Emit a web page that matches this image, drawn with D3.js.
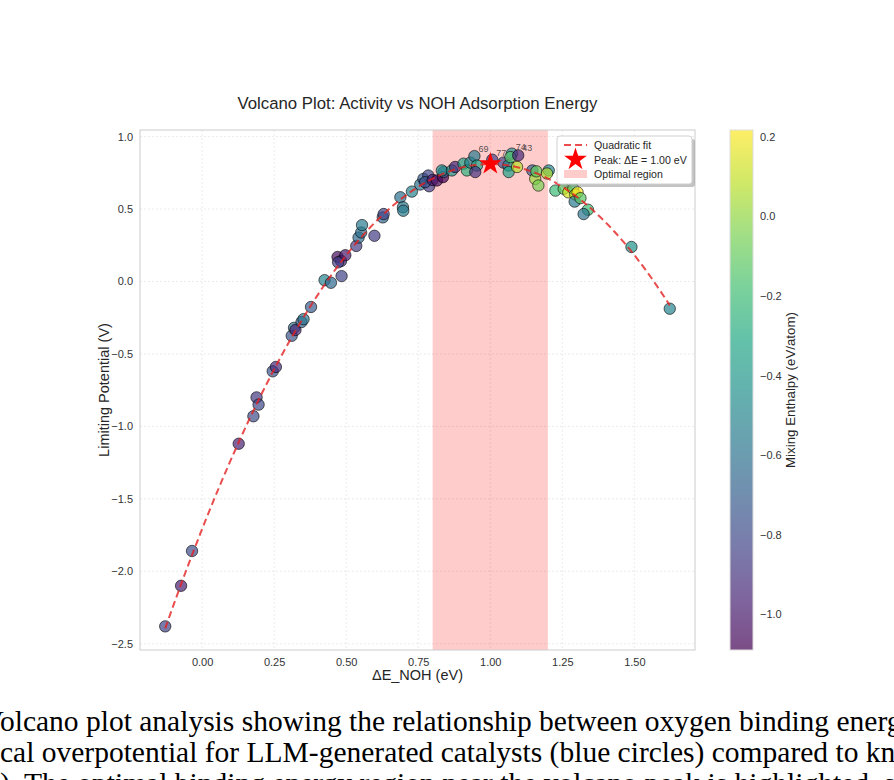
<!DOCTYPE html>
<html>
<head>
<meta charset="utf-8">
<script src="https://cdn.jsdelivr.net/npm/d3@7"></script>
<style>
  body { margin: 0; background: #fff; overflow: hidden; }
  svg { display: block; font-family: "Liberation Sans", Arial, sans-serif; }
</style>
</head>
<body>
<svg id="chart" width="894" height="780"></svg>
<script>
// values
const deltaE = [-0.128, -0.073, -0.035, 0.127, 0.178, 0.189, 0.196, 0.245, 0.256, 0.311, 0.319, 0.324, 0.345, 0.352, 0.378,
  0.425, 0.447, 0.484, 0.470, 0.482, 0.497, 0.472, 0.535, 0.543, 0.552, 0.555, 0.598, 0.627, 0.630, 0.688, 0.697, 0.698,
  0.728, 0.757, 0.768, 0.785, 0.788, 0.774, 0.800, 0.815, 0.836, 0.838, 0.832, 0.867, 0.878, 0.907, 0.919, 0.931, 0.945,
  0.954, 0.948, 1.007, 1.046, 1.063, 1.064, 1.075, 1.070, 1.097, 1.093, 1.146, 1.156, 1.167, 1.160, 1.203, 1.197, 1.226,
  1.255, 1.271, 1.288, 1.295, 1.303, 1.293, 1.313, 1.339, 1.324, 1.490, 1.623]
const limitingPotential = [-2.38, -2.10, -1.86, -1.12, -0.93, -0.80, -0.85, -0.62, -0.59, -0.375, -0.32, -0.335, -0.28, -0.26, -0.176,
  0.009, -0.009, 0.037, 0.169, 0.141, 0.181, 0.132, 0.245, 0.303, 0.338, 0.389, 0.315, 0.442, 0.465, 0.581, 0.512, 0.488,
  0.620, 0.669, 0.708, 0.731, 0.657, 0.685, 0.700, 0.697, 0.720, 0.755, 0.766, 0.766, 0.790, 0.8125, 0.766, 0.82, 0.865,
  0.80, 0.755, 0.84, 0.82, 0.80, 0.755, 0.882, 0.858, 0.87, 0.79, 0.766, 0.708, 0.662, 0.76, 0.766, 0.745, 0.627,
  0.64, 0.615, 0.64, 0.60, 0.615, 0.551, 0.575, 0.495, 0.465, 0.238, -0.188]
const mixingEnthalpy = [-0.82, -0.98, -0.78, -0.97, -0.78, -0.88, -0.80, -0.76, -0.93, -0.74, -0.62, -0.95, -0.70, -0.58, -0.72,
  -0.52, -0.64, -0.82, -1.05, -0.95, -1.00, -0.86, -0.86, -0.64, -0.60, -0.55, -0.86, -0.66, -0.82, -0.60, -0.56, -0.55,
  -0.52, -0.60, -0.72, -0.82, -0.88, -0.76, -1.0, -1.02, -1.09, -0.7, -0.45, -0.42, -0.95, -0.35, -0.25, -0.5, -0.55,
  -0.35, -0.9, -0.85, -0.8, -0.5, -0.35, -0.45, -0.15, -0.95, 0.08, -0.7, 0.02, -0.05, -0.1, -0.5, 0.05, -0.2,
  -0.1, 0.12, -0.15, 0.1, 0.217, -0.55, -0.12, -0.2, -0.58, -0.42, -0.5]

const labelIndex = [48, 51, 55, 57]
const labelText = ['69', '77', '74', '43']

const optimalRegion = [0.8, 1.2]
const xTicks = [0, 0.25, 0.5, 0.75, 1.0, 1.25, 1.5]
const yTicks = [-2.5, -2.0, -1.5, -1.0, -0.5, 0.0, 0.5, 1.0]
const cbarTicks = [-1.0, -0.8, -0.6, -0.4, -0.2, 0.0, 0.2]

const captionLines = [
  ['V', 'olcano plot analysis showing the relationship between oxygen binding energy and'],
  ['electrochemi', 'cal overpotential for LLM-generated catalysts (blue circles) compared to known'],
  ['catalysts', '). The optimal binding energy region near the volcano peak is highlighted, showing how LLM']
]

let svg = d3.select('#chart')
let plot = { left: 140, right: 695, top: 130, bottom: 650 }
let fmtMinus = s => s.replace('-', '\u2212')

let points = deltaE.map((d, i) => ({ x: d, y: limitingPotential[i], h: mixingEnthalpy[i] }))

// 5% margins like matplotlib autoscale
let xExt = d3.extent(deltaE), yExt = d3.extent(limitingPotential)
let xPad = (xExt[1] - xExt[0]) * 0.05, yPad = (yExt[1] - yExt[0]) * 0.05
let xScale = d3.scaleLinear().domain([xExt[0] - xPad, xExt[1] + xPad]).range([plot.left, plot.right])
let yScale = d3.scaleLinear().domain([yExt[0] - yPad, yExt[1] + yPad]).range([plot.bottom, plot.top])

let hExt = d3.extent(mixingEnthalpy)
let color = d3.scaleSequential(d3.interpolateViridis).domain(hExt)

// quadratic least squares fit
function polyfit2(xs, ys) {
  let s = [0, 0, 0, 0, 0], t = [0, 0, 0]
  xs.forEach((x, i) => {
    for (let k = 0; k < 5; k++) s[k] += Math.pow(x, k)
    for (let k = 0; k < 3; k++) t[k] += Math.pow(x, k) * ys[i]
  })
  let m = [[s[0], s[1], s[2], t[0]], [s[1], s[2], s[3], t[1]], [s[2], s[3], s[4], t[2]]]
  for (let c = 0; c < 3; c++) {
    for (let r = c + 1; r < 3; r++) {
      let f = m[r][c] / m[c][c]
      for (let k = c; k < 4; k++) m[r][k] -= f * m[c][k]
    }
  }
  let coef = [0, 0, 0]
  for (let r = 2; r >= 0; r--) {
    let v = m[r][3]
    for (let k = r + 1; k < 3; k++) v -= m[r][k] * coef[k]
    coef[r] = v / m[r][r]
  }
  return coef // c0 + c1 x + c2 x^2
}
let coef = polyfit2(deltaE, limitingPotential)
let fitY = x => coef[0] + coef[1] * x + coef[2] * x * x
let peakX = -coef[1] / (2 * coef[2])
let peakY = fitY(peakX)
let fitLine = d3.range(0, 101).map(i => {
  let x = xExt[0] + (xExt[1] - xExt[0]) * i / 100
  return [x, fitY(x)]
})

// title
svg.append('text')
  .attr('x', (plot.left + plot.right) / 2).attr('y', 109)
  .attr('text-anchor', 'middle').attr('font-size', 16.8).attr('fill', '#262626')
  .text('Volcano Plot: Activity vs NOH Adsorption Energy')

svg.append('defs').append('clipPath').attr('id', 'plotClip')
  .append('rect').attr('x', plot.left).attr('y', plot.top)
  .attr('width', plot.right - plot.left).attr('height', plot.bottom - plot.top)

// grid
let grid = svg.append('g')
grid.selectAll('.gx').data(xTicks).enter().append('line')
  .attr('x1', d => xScale(d)).attr('x2', d => xScale(d))
  .attr('y1', plot.top).attr('y2', plot.bottom)
  .attr('stroke', '#e6e6e6').attr('stroke-dasharray', '2,2').attr('stroke-width', 0.8)
grid.selectAll('.gy').data(yTicks).enter().append('line')
  .attr('y1', d => yScale(d)).attr('y2', d => yScale(d))
  .attr('x1', plot.left).attr('x2', plot.right)
  .attr('stroke', '#e6e6e6').attr('stroke-dasharray', '2,2').attr('stroke-width', 0.8)

let inner = svg.append('g').attr('clip-path', 'url(#plotClip)')

// optimal region
inner.append('rect')
  .attr('x', xScale(optimalRegion[0])).attr('y', plot.top)
  .attr('width', xScale(optimalRegion[1]) - xScale(optimalRegion[0]))
  .attr('height', plot.bottom - plot.top)
  .attr('fill', '#ff0000').attr('fill-opacity', 0.2)

// points
inner.selectAll('circle').data(points).enter().append('circle')
  .attr('cx', d => xScale(d.x)).attr('cy', d => yScale(d.y)).attr('r', 5.7)
  .attr('fill', d => color(d.h)).attr('fill-opacity', 0.7)
  .attr('stroke', '#000').attr('stroke-opacity', 0.6).attr('stroke-width', 1)

// fit line
inner.append('path').datum(fitLine)
  .attr('d', d3.line().x(d => xScale(d[0])).y(d => yScale(d[1])))
  .attr('fill', 'none').attr('stroke', '#e32020').attr('stroke-opacity', 0.8)
  .attr('stroke-width', 2).attr('stroke-dasharray', '7,4')

// peak star
let star = d3.symbol().type(d3.symbolStar).size(160)
inner.append('path').attr('d', star())
  .attr('transform', `translate(${xScale(peakX)},${yScale(peakY)})`)
  .attr('fill', '#ff0000')

// point labels
inner.selectAll('.lbl').data(labelIndex).enter().append('text')
  .attr('x', d => xScale(deltaE[d]) + 4).attr('y', d => yScale(limitingPotential[d]) - 4)
  .attr('font-size', 9).attr('fill', '#333').attr('fill-opacity', 0.85)
  .text((d, i) => labelText[i])

// frame
svg.append('rect').attr('x', plot.left).attr('y', plot.top)
  .attr('width', plot.right - plot.left).attr('height', plot.bottom - plot.top)
  .attr('fill', 'none').attr('stroke', '#cccccc').attr('stroke-width', 1)

// axes
let xAxis = d3.axisBottom(xScale).tickValues(xTicks).tickSize(0).tickPadding(8)
  .tickFormat(d => fmtMinus(d3.format('.2f')(d)))
let yAxis = d3.axisLeft(yScale).tickValues(yTicks).tickSize(0).tickPadding(7)
  .tickFormat(d => fmtMinus(d3.format('.1f')(d)))
let gx = svg.append('g').attr('transform', `translate(0,${plot.bottom})`).call(xAxis)
let gy = svg.append('g').attr('transform', `translate(${plot.left},0)`).call(yAxis)
;[gx, gy].forEach(g => {
  g.select('.domain').remove()
  g.selectAll('text').attr('font-size', 11).attr('fill', '#333').attr('font-family', 'Liberation Sans, Arial, sans-serif')
})

svg.append('text')
  .attr('x', (plot.left + plot.right) / 2).attr('y', 680)
  .attr('text-anchor', 'middle').attr('font-size', 14.5).attr('fill', '#262626')
  .text('\u0394E_NOH (eV)')
svg.append('text')
  .attr('transform', `translate(109,${(plot.top + plot.bottom) / 2}) rotate(-90)`)
  .attr('text-anchor', 'middle').attr('font-size', 14.5).attr('fill', '#262626')
  .text('Limiting Potential (V)')

// legend
let lg = svg.append('g').attr('transform', 'translate(557,136)')
lg.append('rect').attr('x', 3).attr('y', 3).attr('width', 135).attr('height', 48).attr('rx', 3)
  .attr('fill', '#888').attr('fill-opacity', 0.5)
lg.append('rect').attr('width', 135).attr('height', 48).attr('rx', 3)
  .attr('fill', '#fff').attr('stroke', '#d0d0d0')
lg.append('line').attr('x1', 7).attr('x2', 30).attr('y1', 9).attr('y2', 9)
  .attr('stroke', '#e32020').attr('stroke-opacity', 0.8).attr('stroke-width', 2).attr('stroke-dasharray', '7,4')
lg.append('path').attr('d', star()).attr('transform', 'translate(18.5,23.5)').attr('fill', '#ff0000')
lg.append('rect').attr('x', 7).attr('y', 34).attr('width', 23).attr('height', 8)
  .attr('fill', '#ff0000').attr('fill-opacity', 0.2)
let legendText = ['Quadratic fit', `Peak: \u0394E = ${peakX.toFixed(2)} eV`, 'Optimal region']
lg.selectAll('.lt').data(legendText).enter().append('text')
  .attr('x', 37).attr('y', (d, i) => 13 + i * 14.5)
  .attr('font-size', 10.6).attr('fill', '#262626').text(d => d)

// colorbar
let cb = { x: 730, w: 23 }
let cScale = d3.scaleLinear().domain(hExt).range([plot.bottom, plot.top])
let grad = svg.select('defs').append('linearGradient').attr('id', 'cbGrad')
  .attr('x1', 0).attr('y1', 1).attr('x2', 0).attr('y2', 0)
d3.range(0, 11).forEach(i => {
  grad.append('stop').attr('offset', i / 10).attr('stop-color', d3.interpolateViridis(i / 10))
})
svg.append('rect').attr('x', cb.x).attr('y', plot.top).attr('width', cb.w)
  .attr('height', plot.bottom - plot.top).attr('fill', 'url(#cbGrad)').attr('fill-opacity', 0.7)
svg.append('rect').attr('x', cb.x).attr('y', plot.top).attr('width', cb.w)
  .attr('height', plot.bottom - plot.top).attr('fill', 'none').attr('stroke', '#dddddd')
let cAxis = d3.axisRight(cScale).tickValues(cbarTicks).tickSize(0).tickPadding(7)
  .tickFormat(d => fmtMinus(d3.format('.1f')(d)))
let gc = svg.append('g').attr('transform', `translate(${cb.x + cb.w},0)`).call(cAxis)
gc.select('.domain').remove()
gc.selectAll('text').attr('font-size', 11).attr('fill', '#333').attr('font-family', 'Liberation Sans, Arial, sans-serif')
svg.append('text')
  .attr('transform', `translate(795,${(plot.top + plot.bottom) / 2}) rotate(-90)`)
  .attr('text-anchor', 'middle').attr('font-size', 13.3).attr('fill', '#262626')
  .text('Mixing Enthalpy (eV/atom)')

// caption below the figure, clipped at the page edges
let cap = svg.append('g').attr('font-family', 'Liberation Serif, Times New Roman, serif')
  .attr('font-size', 29.5).attr('fill', '#000')
captionLines.forEach((line, i) => {
  let t = cap.append('text').attr('y', 731 + i * 31).text(line[0] + line[1])
  let hidden = t.node().getSubStringLength(0, line[0].length)
  t.attr('x', -hidden)
})
</script>
</body>
</html>
